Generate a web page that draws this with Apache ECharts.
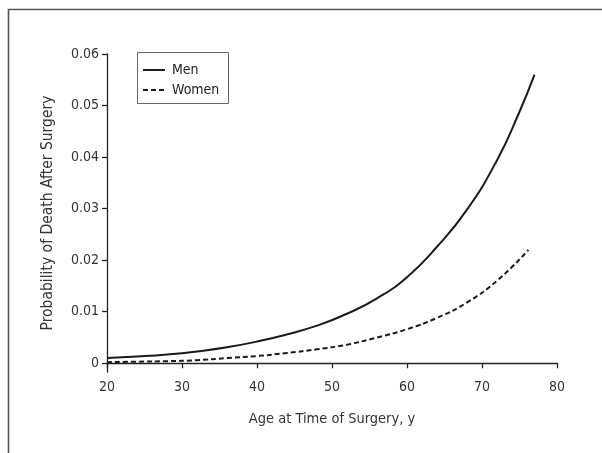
<!DOCTYPE html>
<html>
<head>
<meta charset="utf-8">
<script src="https://cdn.jsdelivr.net/npm/echarts@6/dist/echarts.min.js"></script>
<style>html,body{margin:0;padding:0;background:#fff}#c{width:602px;height:453px}</style>
</head>
<body>
<div id="c"></div>
<script>
const menAges   = [20, 24, 28, 32, 36, 40, 44, 48, 52, 56, 60, 64, 68, 72, 75, 77];
const menVals   = [0.0010, 0.0013, 0.0017, 0.0023, 0.0031, 0.0042, 0.0056, 0.0073, 0.0096, 0.0126, 0.0167, 0.0226, 0.0298, 0.0394, 0.0488, 0.0560];
const womenAges = [20, 24, 28, 32, 36, 40, 44, 48, 52, 56, 60, 64, 68, 72, 76.2];
const womenVals = [0.0002, 0.0003, 0.0004, 0.0006, 0.0010, 0.0014, 0.0020, 0.0027, 0.0036, 0.0050, 0.0066, 0.0088, 0.0118, 0.0160, 0.0220];
const yTicks = [0, 0.01, 0.02, 0.03, 0.04, 0.05, 0.06];
const seriesNames = ['Men', 'Women'];
const xTitle = 'Age at Time of Surgery, y';
const yTitle = 'Probability of Death After Surgery';

const FONT = '"DejaVu Sans Condensed", "Liberation Sans", sans-serif';
const INK = '#1a1a1a';
const TXT = '#333';
const chart = echarts.init(document.getElementById('c'), null, {renderer: 'canvas'});
const pairs = (xs, ys) => xs.map((x, i) => [x, ys[i]]);
const dashes = [5, 3];

chart.setOption({
  animation: false,
  backgroundColor: '#fff',
  graphic: [
    {type: 'rect', silent: true, shape: {x: 8.5, y: 9.5, width: 700, height: 600},
     style: {fill: 'none', stroke: '#555', lineWidth: 1.6}},
    {type: 'rect', silent: true, shape: {x: 137.5, y: 52.5, width: 91, height: 51},
     style: {fill: '#fff', stroke: '#666', lineWidth: 1}, z: 10},
    {type: 'line', silent: true, shape: {x1: 143, y1: 70, x2: 165, y2: 70},
     style: {stroke: INK, lineWidth: 2}, z: 11},
    {type: 'line', silent: true, shape: {x1: 143, y1: 90, x2: 165, y2: 90},
     style: {stroke: INK, lineWidth: 2, lineDash: dashes}, z: 11},
    {type: 'text', silent: true, x: 172, y: 70, z: 11,
     style: {text: seriesNames[0], font: '14px ' + FONT, fill: '#222', verticalAlign: 'middle'}},
    {type: 'text', silent: true, x: 172, y: 90, z: 11,
     style: {text: seriesNames[1], font: '14px ' + FONT, fill: '#222', verticalAlign: 'middle'}}
  ],
  grid: {left: 107, right: 45, top: 54, bottom: 81, containLabel: false},
  xAxis: {
    type: 'value', min: 20, max: 80, interval: 10,
    name: xTitle, nameLocation: 'middle', nameGap: 40,
    nameTextStyle: {fontFamily: FONT, fontSize: 14.5, color: TXT},
    axisLine: {lineStyle: {color: '#222', width: 1.3}},
    axisTick: {show: true, length: 5, lineStyle: {color: '#222', width: 1.3}},
    axisLabel: {fontFamily: FONT, fontSize: 14, color: TXT, margin: 8},
    splitLine: {show: false}
  },
  yAxis: {
    type: 'value', min: -0.0017, max: 0.06,
    name: yTitle, nameLocation: 'middle', nameGap: 51, nameRotate: 90,
    nameTextStyle: {fontFamily: FONT, fontSize: 15.5, color: TXT},
    axisLine: {show: true, lineStyle: {color: '#222', width: 1.3}},
    axisTick: {show: true, length: 5, customValues: yTicks, lineStyle: {color: '#222', width: 1.3}},
    axisLabel: {fontFamily: FONT, fontSize: 14, color: TXT, margin: 8, customValues: yTicks,
      formatter: v => (Math.abs(v) < 1e-9 ? '0' : (+v.toFixed(2)).toString())},
    splitLine: {show: false}
  },
  series: [
    {name: seriesNames[0], type: 'line', smooth: true, symbol: 'none',
     data: pairs(menAges, menVals),
     lineStyle: {color: INK, width: 2}, itemStyle: {color: INK}},
    {name: seriesNames[1], type: 'line', smooth: true, symbol: 'none',
     data: pairs(womenAges, womenVals),
     lineStyle: {color: INK, width: 2, type: dashes}, itemStyle: {color: INK}}
  ]
});
</script>
</body>
</html>
